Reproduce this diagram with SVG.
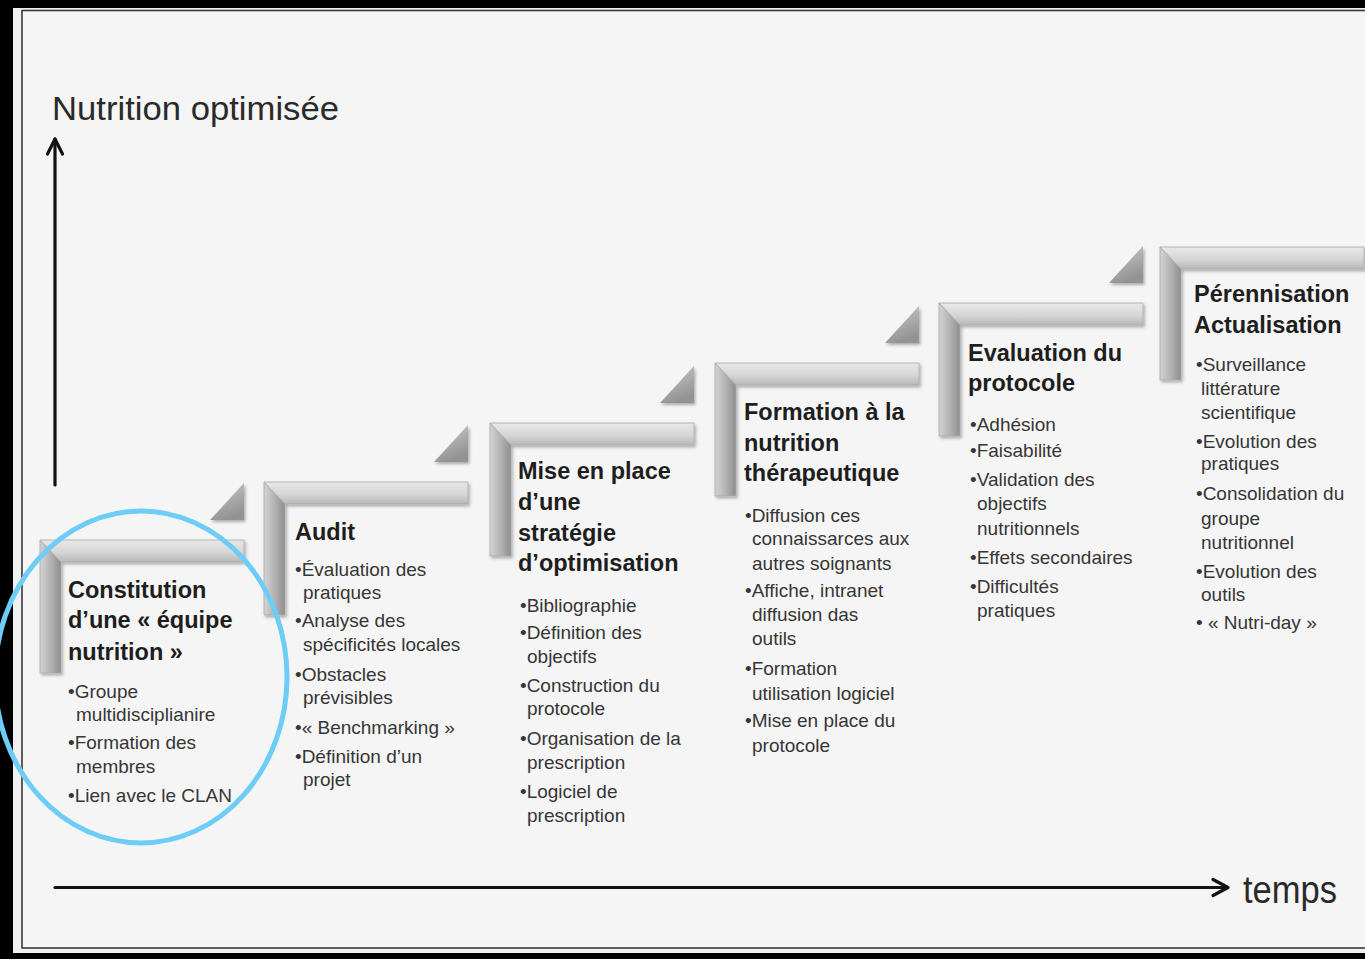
<svg xmlns="http://www.w3.org/2000/svg" xmlns:xlink="http://www.w3.org/1999/xlink" width="1365" height="959" viewBox="0 0 1365 959">
<style>
.ttl{font-family:"Liberation Sans",Arial,sans-serif;font-weight:bold;font-size:23.5px;fill:#1e1e1e}
.bul{font-family:"Liberation Sans",Arial,sans-serif;font-size:19px;fill:#363636}
.axis{font-family:"Liberation Sans",Arial,sans-serif;fill:#2a2a2a}
.ax{stroke:#111;stroke-width:3.2;fill:none;stroke-linecap:round;stroke-linejoin:round}
</style>
<defs>
<linearGradient id="gTop" x1="0" y1="0" x2="0" y2="1">
<stop offset="0" stop-color="#e8e8e8"/><stop offset="0.55" stop-color="#d6d6d6"/><stop offset="1" stop-color="#b8b8b8"/>
</linearGradient>
<linearGradient id="gLeft" x1="0" y1="0" x2="1" y2="0">
<stop offset="0" stop-color="#d4d4d4"/><stop offset="0.55" stop-color="#b0b0b0"/><stop offset="1" stop-color="#8e8e8e"/>
</linearGradient>
<linearGradient id="gTri" x1="0" y1="0" x2="0.4" y2="1">
<stop offset="0" stop-color="#cdcdcd"/><stop offset="1" stop-color="#939393"/>
</linearGradient>
<filter id="sh" x="-10%" y="-10%" width="130%" height="130%">
<feDropShadow dx="1.5" dy="2" stdDeviation="1.6" flood-color="#000" flood-opacity="0.3"/>
</filter>
<g id="bracket" filter="url(#sh)">
<polygon points="0,0 21,22 21,133 0,133" fill="url(#gLeft)" stroke="#a8a8a8" stroke-width="0.8"/>
<polygon points="0,0 204,0 204,22 21,22" fill="url(#gTop)" stroke="#a8a8a8" stroke-width="0.8"/>
</g>
<polygon id="tri" points="170,-20 204,-20 204,-57" fill="url(#gTri)" filter="url(#sh)"/>
</defs>

<rect x="0" y="0" width="1365" height="959" fill="#000"/>
<rect x="13" y="8" width="1360" height="945" fill="#f0f0f0"/>
<rect x="22" y="10.5" width="1360" height="937.5" fill="#f5f5f5" stroke="#3a3a3a" stroke-width="1.6"/>

<g id="connectors">
<path class="ax" d="M55,485 V139"/>
<path class="ax" d="M47.5,154 L55,139 L62.5,154"/>
<path class="ax" d="M55,887.5 H1227" stroke-width="3.6"/>
<path class="ax" d="M1213,879.5 L1228,887.5 L1213,895.5"/>
</g>

<g id="axis-y-label"><text class="axis" x="52" y="120" font-size="33" textLength="287" lengthAdjust="spacingAndGlyphs">Nutrition optimisée</text></g>
<g id="axis-x-label"><text class="axis" x="1243" y="903" font-size="38" textLength="94" lengthAdjust="spacingAndGlyphs">temps</text></g>

<g id="step1">
<use xlink:href="#bracket" href="#bracket" transform="translate(40,540)"/>
<use xlink:href="#tri" href="#tri" transform="translate(40,540)"/>
<text class="ttl"><tspan x="68" y="598">Constitution</tspan><tspan x="68" y="628">d’une « équipe</tspan><tspan x="68" y="660">nutrition »</tspan></text>
<text class="bul"><tspan x="68" y="698">•Groupe</tspan><tspan x="76" y="721">multidisciplianire</tspan><tspan x="68" y="749">•Formation des</tspan><tspan x="76" y="773">membres</tspan><tspan x="68" y="802">•Lien avec  le CLAN</tspan></text>
</g>

<g id="step2">
<use xlink:href="#bracket" href="#bracket" transform="translate(264,482)"/>
<use xlink:href="#tri" href="#tri" transform="translate(264,482)"/>
<text class="ttl"><tspan x="295" y="540">Audit</tspan></text>
<text class="bul"><tspan x="295" y="576">•Évaluation des</tspan><tspan x="303" y="599">pratiques</tspan><tspan x="295" y="627">•Analyse des</tspan><tspan x="303" y="651">spécificités locales</tspan><tspan x="295" y="681">•Obstacles</tspan><tspan x="303" y="704">prévisibles</tspan><tspan x="295" y="734">•« Benchmarking »</tspan><tspan x="295" y="763">•Définition d’un</tspan><tspan x="303" y="786">projet</tspan></text>
</g>

<g id="step3">
<use xlink:href="#bracket" href="#bracket" transform="translate(490,423)"/>
<use xlink:href="#tri" href="#tri" transform="translate(490,423)"/>
<text class="ttl"><tspan x="518" y="479">Mise en place</tspan><tspan x="518" y="510">d’une</tspan><tspan x="518" y="541">stratégie</tspan><tspan x="518" y="571">d’optimisation</tspan></text>
<text class="bul"><tspan x="520" y="612">•Bibliographie</tspan><tspan x="520" y="639">•Définition des</tspan><tspan x="527" y="663">objectifs</tspan><tspan x="520" y="692">•Construction du</tspan><tspan x="527" y="715">protocole</tspan><tspan x="520" y="745">•Organisation de la</tspan><tspan x="527" y="769">prescription</tspan><tspan x="520" y="798">•Logiciel de</tspan><tspan x="527" y="822">prescription</tspan></text>
</g>

<g id="step4">
<use xlink:href="#bracket" href="#bracket" transform="translate(715,363)"/>
<use xlink:href="#tri" href="#tri" transform="translate(715,363)"/>
<text class="ttl"><tspan x="744" y="420">Formation à la</tspan><tspan x="744" y="451">nutrition</tspan><tspan x="744" y="481">thérapeutique</tspan></text>
<text class="bul"><tspan x="745" y="522">•Diffusion ces</tspan><tspan x="752" y="545">connaissarces aux</tspan><tspan x="752" y="570">autres soignants</tspan><tspan x="745" y="597">•Affiche, intranet</tspan><tspan x="752" y="621">diffusion das</tspan><tspan x="752" y="645">outils</tspan><tspan x="745" y="675">•Formation</tspan><tspan x="752" y="700">utilisation logiciel</tspan><tspan x="745" y="727">•Mise en place du</tspan><tspan x="752" y="752">protocole</tspan></text>
</g>

<g id="step5">
<use xlink:href="#bracket" href="#bracket" transform="translate(939,303)"/>
<use xlink:href="#tri" href="#tri" transform="translate(939,303)"/>
<text class="ttl"><tspan x="968" y="361">Evaluation du</tspan><tspan x="968" y="391">protocole</tspan></text>
<text class="bul"><tspan x="970" y="431">•Adhésion</tspan><tspan x="970" y="457">•Faisabilité</tspan><tspan x="970" y="486">•Validation des</tspan><tspan x="977" y="510">objectifs</tspan><tspan x="977" y="535">nutritionnels</tspan><tspan x="970" y="564">•Effets secondaires</tspan><tspan x="970" y="593">•Difficultés</tspan><tspan x="977" y="617">pratiques</tspan></text>
</g>

<g id="step6">
<use xlink:href="#bracket" href="#bracket" transform="translate(1160,247)"/>
<text class="ttl"><tspan x="1194" y="302">Pérennisation</tspan><tspan x="1194" y="333">Actualisation</tspan></text>
<text class="bul"><tspan x="1196" y="371">•Surveillance</tspan><tspan x="1201" y="395">littérature</tspan><tspan x="1201" y="419">scientifique</tspan><tspan x="1196" y="448">•Evolution des</tspan><tspan x="1201" y="470">pratiques</tspan><tspan x="1196" y="500">•Consolidation du</tspan><tspan x="1201" y="525">groupe</tspan><tspan x="1201" y="549">nutritionnel</tspan><tspan x="1196" y="578">•Evolution des</tspan><tspan x="1201" y="601">outils</tspan><tspan x="1196" y="629">• « Nutri-day »</tspan></text>
</g>

<g id="highlight">
<ellipse cx="141" cy="677" rx="146" ry="166" fill="none" stroke="#6dcdf7" stroke-width="5"/>
</g>
</svg>
